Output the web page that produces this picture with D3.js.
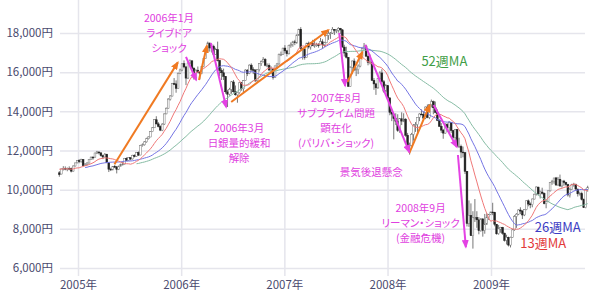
<!DOCTYPE html>
<html>
<head>
<meta charset="utf-8">
<script src="https://cdn.jsdelivr.net/npm/d3@7"></script>
<style>
  body { margin: 0; background: #fff; }
  text { font-family: "Noto Sans CJK JP", "Noto Sans", sans-serif; }
  .note { font-feature-settings: "palt"; }
</style>
</head>
<body>
<script>
// weekly candles [open, high, low, close], one row per week from firstWeek
const firstWeek = '2004-10-25';
// closes before the first candle, only used to warm up the moving averages
const preCloses = [11060, 10757, 11110, 11209, 11022, 11152, 11082, 10895, 11279, 11349, 11035, 10860];

const w2004 = [
  [10860, 10950, 10660, 10771], [10800, 11080, 10780, 11061], [11070, 11200, 10980, 11082], [11090, 11190, 10990, 11083],
  [11050, 11130, 10940, 11094], [11090, 11190, 10990, 11074], [11080, 11130, 10880, 10946], [10950, 11240, 10920, 11209],
  [11210, 11380, 11180, 11366], [11370, 11500, 11340, 11489]
];
const w2005 = [
  [11490, 11560, 11350, 11433], [11430, 11580, 11380, 11539], [11540, 11560, 11200, 11224], [11220, 11360, 11210, 11297],
  [11300, 11400, 11250, 11361], [11360, 11560, 11340, 11553], [11550, 11690, 11530, 11660], [11660, 11710, 11530, 11658],
  [11660, 11880, 11640, 11873], [11870, 11980, 11820, 11923], [11920, 11960, 11800, 11879], [11880, 11900, 11690, 11739],
  [11740, 11790, 11560, 11668], [11670, 11870, 11660, 11810], [11810, 11830, 11360, 11370], [11370, 11400, 10900, 11046],
  [11050, 11120, 10950, 11008], [11010, 11200, 10990, 11192], [11190, 11270, 11100, 11172], [11170, 11190, 10830, 11037],
  [11040, 11230, 11000, 11200], [11200, 11330, 11180, 11300], [11300, 11440, 11240, 11304], [11300, 11620, 11290, 11600],
  [11600, 11650, 11460, 11500], [11500, 11650, 11480, 11630], [11630, 11660, 11500, 11565], [11570, 11780, 11540, 11758],
  [11760, 11800, 11650, 11695], [11700, 11920, 11680, 11900], [11900, 11950, 11720, 11766], [11770, 12290, 11760, 12261],
  [12260, 12360, 12200, 12291], [12290, 12480, 12250, 12439], [12440, 12650, 12400, 12600], [12600, 12720, 12560, 12692],
  [12690, 12990, 12680, 12958], [12960, 13200, 12940, 13159], [13160, 13600, 13150, 13574], [13570, 13750, 13330, 13359],
  [13360, 13450, 13180, 13228], [13230, 13290, 12990, 13041], [13040, 13400, 12990, 13346], [13350, 13900, 13300, 13867],
  [13870, 14200, 13850, 14155], [14160, 14680, 14140, 14623], [14620, 14830, 14550, 14784], [14780, 15450, 14760, 15421],
  [15420, 15700, 15340, 15404], [15400, 15580, 14950, 15174], [15170, 15980, 15150, 15941], [15940, 16180, 15900, 16111]
];
const w2006 = [
  [16110, 16450, 16050, 16425], [16430, 16600, 16200, 16268], [16270, 16290, 15340, 15697], [15700, 16500, 15650, 16467],
  [16470, 16650, 16400, 16580], [16580, 16600, 16150, 16198], [16200, 16260, 15620, 15713], [15710, 16150, 15650, 16101],
  [16100, 16290, 15950, 16005], [16000, 16050, 15630, 15931], [15930, 16310, 15900, 16287], [16290, 16720, 16250, 16703],
  [16700, 17100, 16680, 17059], [17060, 17560, 17040, 17490], [17490, 17500, 17050, 17233], [17230, 17440, 17000, 17322],
  [17320, 17400, 16850, 16906], [16910, 17250, 16890, 17153], [17150, 17560, 16550, 16601], [16600, 16620, 15800, 16090],
  [16090, 16200, 15600, 15970], [15970, 16180, 15600, 15787], [15790, 15800, 14900, 15000], [14990, 15100, 14220, 14879],
  [14880, 15200, 14800, 15124], [15120, 15550, 14900, 15505], [15500, 15600, 14950, 15000], [15000, 15320, 14800, 14845],
  [14840, 14960, 14440, 14946], [14950, 15480, 14900, 15457], [15460, 15500, 15050, 15154], [15150, 15600, 14980, 15565],
  [15570, 16150, 15550, 16106], [16100, 16160, 15800, 15939], [15940, 16400, 15900, 16359], [16360, 16450, 16050, 16135],
  [16130, 16250, 15900, 16110], [16110, 16150, 15500, 15557], [15560, 16150, 15450, 16127], [16130, 16450, 16030, 16436],
  [16440, 16600, 16320, 16536], [16540, 16770, 16490, 16651], [16650, 16720, 16300, 16350], [16350, 16450, 16250, 16350],
  [16350, 16450, 16050, 16112], [16110, 16300, 15900, 16163], [16160, 16200, 15620, 15734], [15730, 16330, 15700, 16321],
  [16320, 16470, 16150, 16417], [16420, 16950, 16380, 16915], [16910, 17050, 16820, 16914], [16910, 17250, 16880, 17225]
];
const w2007 = [
  [17230, 17380, 16950, 17091], [17090, 17120, 16800, 16942], [16940, 17400, 16900, 17370], [17370, 17520, 17250, 17422],
  [17420, 17600, 17300, 17547], [17550, 17650, 17380, 17504], [17500, 17930, 17450, 17897], [17900, 18220, 17850, 18188],
  [18190, 18300, 17100, 17217], [17220, 17250, 16640, 17164], [17160, 17300, 16640, 16744], [16740, 17500, 16730, 17480],
  [17480, 17560, 17200, 17287], [17290, 17530, 17150, 17490], [17490, 17650, 17330, 17364], [17360, 17700, 17250, 17372],
  [17370, 17500, 17300, 17400], [17400, 17480, 17250, 17394], [17390, 17750, 17380, 17554], [17550, 17680, 17200, 17399],
  [17400, 17550, 17300, 17500], [17500, 17900, 17480, 17875], [17880, 18100, 17650, 17979], [17980, 18050, 17700, 18001],
  [18000, 18300, 17950, 18188], [18190, 18200, 17900, 18138], [18140, 18200, 18000, 18140], [18140, 18300, 18020, 18238],
  [18240, 18260, 17950, 18157], [18160, 18200, 17250, 17283], [17280, 17400, 16800, 16979], [16980, 17300, 16700, 16764],
  [16760, 16770, 15260, 15273], [15270, 16300, 15250, 16248], [16250, 16600, 15900, 16569], [16570, 16700, 16050, 16122],
  [16120, 16250, 15800, 16127], [16130, 16400, 15900, 16313], [16310, 16800, 16250, 16786], [16790, 17250, 16780, 17200],
  [17200, 17490, 17150, 17331], [17330, 17400, 16800, 16814], [16810, 16900, 16350, 16505], [16510, 16900, 16400, 16517],
  [16520, 16550, 15550, 15584], [15580, 15700, 15100, 15400], [15400, 15450, 14840, 15200], [15200, 15700, 15150, 15680],
  [15680, 16050, 15600, 15956], [15960, 16150, 15450, 15514], [15510, 15600, 14950, 15031], [15030, 15400, 15000, 15307],
  [15310, 15330, 14600, 14691]
];
const w2008 = [
  [14690, 14700, 13800, 13950], [13950, 14100, 13500, 13861], [13860, 13900, 12570, 13629], [13630, 13900, 13300, 13497],
  [13500, 13850, 12950, 13017], [13020, 13650, 12900, 13622], [13620, 13950, 13300, 13500], [13500, 13900, 13450, 13604],
  [13600, 13650, 12700, 12782], [12780, 12900, 12140, 12241], [12240, 12400, 11790, 12260], [12260, 12900, 12250, 12820],
  [12820, 13350, 12500, 13293], [13290, 13450, 12950, 13323], [13320, 13700, 12900, 13696], [13700, 13900, 13500, 13863],
  [13860, 14100, 13800, 13849], [13850, 14000, 13550, 13655], [13660, 14250, 13600, 14219], [14220, 14350, 13650, 13690],
  [13690, 14350, 13600, 14338], [14340, 14600, 14200, 14489], [14490, 14550, 13850, 14181], [14180, 14500, 13900, 13942],
  [13940, 14100, 13500, 13544], [13540, 13600, 13200, 13237], [13240, 13400, 12900, 13039], [13040, 13100, 12600, 12889],
  [12890, 13400, 12850, 13334], [13330, 13400, 12950, 13168], [13170, 13500, 12900, 13431], [13430, 13450, 12900, 13019],
  [13020, 13050, 12600, 12666], [12670, 13100, 12500, 13072], [13070, 13100, 12200, 12212], [12210, 12650, 12150, 12214],
  [12210, 12300, 11610, 11921], [11920, 12200, 11650, 11893], [11890, 11900, 10800, 10938], [10940, 10950, 8120, 8276],
  [8280, 9450, 8100, 8693], [8690, 9300, 7650, 7649], [7650, 8900, 6990, 8577], [8580, 9520, 8350, 8583],
  [8580, 8900, 8050, 8462], [8460, 8600, 7720, 7910], [7910, 8550, 7850, 8512], [8510, 8520, 7600, 7917],
  [7920, 8760, 7750, 8235], [8240, 8800, 8200, 8588], [8590, 8760, 8450, 8739], [8740, 8870, 8700, 8860]
];
const w2009 = [
  [8860, 9330, 8700, 8836], [8840, 8870, 8130, 8230], [8230, 8250, 7700, 7745], [7750, 8200, 7700, 7994],
  [7990, 8100, 7800, 8076], [8080, 8100, 7700, 7779], [7780, 7800, 7350, 7416], [7420, 7700, 7200, 7568],
  [7570, 7600, 7100, 7173], [7170, 7600, 7050, 7569], [7570, 8000, 7550, 7945], [7950, 8700, 7900, 8627],
  [8630, 8800, 8050, 8749], [8750, 9000, 8700, 8964], [8960, 9100, 8750, 8907], [8910, 8950, 8500, 8707],
  [8710, 9000, 8650, 8977], [8980, 9450, 8950, 9432], [9430, 9500, 9150, 9265], [9270, 9350, 9050, 9225],
  [9230, 9550, 9100, 9523], [9520, 9800, 9500, 9768], [9770, 10170, 9700, 10135], [10130, 10150, 9700, 9786],
  [9790, 9950, 9550, 9877], [9880, 10100, 9750, 9816], [9820, 9850, 9250, 9287], [9290, 9450, 9050, 9395],
  [9400, 9950, 9380, 9944], [9940, 10370, 9900, 10357], [10360, 10500, 10250, 10412], [10410, 10600, 10300, 10597],
  [10600, 10650, 10200, 10238], [10240, 10650, 10200, 10534], [10530, 10770, 10150, 10187], [10190, 10450, 10100, 10444],
  [10440, 10500, 10200, 10370], [10370, 10400, 10200, 10265], [10260, 10300, 9650, 9731], [9730, 10100, 9600, 10016],
  [10020, 10300, 9980, 10258], [10260, 10350, 10150, 10282], [10280, 10300, 9950, 10034], [10030, 10050, 9650, 9789],
  [9790, 9900, 9700, 9804], [9800, 9900, 9450, 9497], [9500, 9550, 9070, 9081], [9080, 10050, 9050, 10022],
  [10020, 10200, 9900, 10107]
];

const yTicks = [6000, 8000, 10000, 12000, 14000, 16000, 18000];
const xYears = ['2005', '2006', '2007', '2008', '2009'];

const maPeriods = [52, 26, 13];
const maColors = { 13: '#f07878', 26: '#7474e4', 52: '#86bca4' };
const maLabels = [
  { text: '52週MA', date: '2008-07-20', value: 16550, color: '#3f9e47' },
  { text: '26週MA', date: '2009-08-25', value: 8100, color: '#3c3cc4' },
  { text: '13週MA', date: '2009-07-05', value: 7250, color: '#e23a3a' }
];

// arrows: [from date, from value, to date, to value]
const upArrows = [
  ['2005-05-10', 11300, '2005-12-20', 16500],
  ['2006-03-05', 15600, '2006-04-02', 17350],
  ['2006-06-27', 14480, '2007-06-06', 18150],
  ['2007-08-12', 15500, '2007-10-04', 17030],
  ['2008-03-18', 11870, '2008-05-29', 14320]
];
const downArrows = [
  ['2006-01-18', 16780, '2006-02-23', 15600],
  ['2006-04-16', 17490, '2006-06-09', 14220],
  ['2007-07-14', 18000, '2007-08-04', 15300],
  ['2007-10-14', 17390, '2008-03-18', 11920],
  ['2008-06-12', 14320, '2008-09-02', 12180],
  ['2008-09-06', 11770, '2008-10-04', 7070]
];

const notes = [
  { lines: ['2006年1月', 'ライブドア', 'ショック'], date: '2005-11-19', value: 18770 },
  { lines: ['2006年3月', '日銀量的緩和', '解除'], date: '2006-07-25', value: 13150 },
  { lines: ['2007年8月', 'サブプライム問題', '顕在化', '(パリバ・ショック)'], date: '2007-07-03', value: 14680 },
  { lines: ['景気後退懸念'], date: '2007-11-04', value: 10900 },
  { lines: ['2008年9月', 'リーマン・ショック', '(金融危機)'], date: '2008-04-27', value: 9060 }
];

// setting canvas
const width = 600;
const height = 301;
const plot = { left: 60, right: 585, bottom: 276 };
const noteSize = 10.5;
const noteGap = 15.2;
const parse = d3.timeParse('%Y-%m-%d');

const svg = d3.select('body').append('svg').attr('width', width).attr('height', height);

const x = d3.scaleTime()
  .domain([parse('2005-01-01'), parse('2009-01-01')])
  .range([78, 491]);

const y = d3.scaleLinear()
  .domain([6000, 18000])
  .range([268, 33]);

// candles
const rows = [].concat(w2004, w2005, w2006, w2007, w2008, w2009);
const start = parse(firstWeek);
const candles = rows.map((r, i) => ({
  date: d3.timeDay.offset(d3.timeMonday.offset(start, i), 2),
  o: r[0], h: r[1], l: r[2], c: r[3]
}));

// moving averages
const allCloses = preCloses.concat(rows.map((r) => r[3]));
const pre = preCloses.length;
const ma = (n) => candles.map((d, i) => {
  const g = i + pre;
  return g >= n - 1 ? { date: d.date, v: d3.mean(allCloses.slice(g - n + 1, g + 1)) } : null;
});

// axes as grid
const yAxis = (g) => g
  .attr('transform', `translate(${plot.left},0)`)
  .call(d3.axisLeft(y).tickValues(yTicks).tickSize(-(plot.right - plot.left)).tickPadding(7)
    .tickFormat((d) => d3.format(',')(d) + '円'))
  .call((g) => g.select('.domain').remove())
  .call((g) => g.selectAll('line').attr('stroke', '#e5e5ec').attr('stroke-width', 1.5))
  .call((g) => g.selectAll('text').attr('fill', '#4a4a6e').attr('font-size', 11.5)
    .attr('font-family', '"Noto Sans CJK JP", sans-serif'));

const xAxis = (g) => g
  .attr('transform', `translate(0,${plot.bottom})`)
  .call(d3.axisBottom(x).tickValues(xYears.map((s) => parse(s + '-01-01'))).tickSize(-plot.bottom).tickPadding(5)
    .tickFormat((d) => d3.timeFormat('%Y')(d) + '年'))
  .call((g) => g.select('.domain').remove())
  .call((g) => g.selectAll('line').attr('stroke', '#e5e5ec').attr('stroke-width', 1.5))
  .call((g) => g.selectAll('text').attr('fill', '#4a4a6e').attr('font-size', 11.5)
    .attr('font-family', '"Noto Sans CJK JP", sans-serif'));

svg.append('g').call(yAxis);
svg.append('g').call(xAxis);

// wicks
svg.append('g')
  .selectAll('line')
  .data(candles)
  .enter()
  .append('line')
  .attr('x1', (d) => x(d.date))
  .attr('x2', (d) => x(d.date))
  .attr('y1', (d) => y(d.h))
  .attr('y2', (d) => y(d.l))
  .attr('stroke', '#555')
  .attr('stroke-width', 0.8);

// bodies
svg.append('g')
  .selectAll('rect')
  .data(candles)
  .enter()
  .append('rect')
  .attr('x', (d) => x(d.date) - 0.9)
  .attr('width', 1.8)
  .attr('y', (d) => y(Math.max(d.o, d.c)))
  .attr('height', (d) => Math.max(0.8, Math.abs(y(d.o) - y(d.c))))
  .attr('fill', (d) => (d.c >= d.o ? '#fff' : '#222'))
  .attr('stroke', (d) => (d.c >= d.o ? '#777' : '#222'))
  .attr('stroke-width', 0.5);

// moving average lines
const line = d3.line()
  .defined((d) => d !== null)
  .x((d) => x(d.date))
  .y((d) => y(d.v));

maPeriods.forEach((n) => {
  svg.append('path')
    .datum(ma(n))
    .attr('fill', 'none')
    .attr('stroke', maColors[n])
    .attr('stroke-width', 1)
    .attr('d', line);
});

// arrow heads
const defs = svg.append('defs');
[['up', '#f07a22'], ['down', '#e442e4']].forEach(([id, color]) => {
  defs.append('marker')
    .attr('id', 'head-' + id)
    .attr('viewBox', '0 0 10 8')
    .attr('refX', 8)
    .attr('refY', 4)
    .attr('markerWidth', 9)
    .attr('markerHeight', 7)
    .attr('markerUnits', 'userSpaceOnUse')
    .attr('orient', 'auto')
    .append('path')
    .attr('d', 'M0,0L10,4L0,8Z')
    .attr('fill', color);
});

const drawArrows = (data, color, id) => {
  svg.append('g')
    .selectAll('line')
    .data(data)
    .enter()
    .append('line')
    .attr('x1', (d) => x(parse(d[0])))
    .attr('y1', (d) => y(d[1]))
    .attr('x2', (d) => x(parse(d[2])))
    .attr('y2', (d) => y(d[3]))
    .attr('stroke', color)
    .attr('stroke-width', 2)
    .attr('marker-end', `url(#head-${id})`);
};
drawArrows(upArrows, '#f07a22', 'up');
drawArrows(downArrows, '#e442e4', 'down');

// notes
notes.forEach((n) => {
  svg.append('g')
    .selectAll('text')
    .data(n.lines)
    .enter()
    .append('text')
    .attr('class', 'note')
    .text((d) => d)
    .attr('x', x(parse(n.date)))
    .attr('y', (d, i) => y(n.value) + i * noteGap)
    .attr('dy', '0.36em')
    .attr('fill', '#e040e0')
    .attr('font-size', noteSize)
    .attr('text-anchor', 'middle');
});

// MA labels
svg.append('g')
  .selectAll('text')
  .data(maLabels)
  .enter()
  .append('text')
  .text((d) => d.text)
  .attr('x', (d) => x(parse(d.date)))
  .attr('y', (d) => y(d.value))
  .attr('dy', '0.36em')
  .attr('fill', (d) => d.color)
  .attr('font-size', 13)
  .attr('text-anchor', 'middle');
</script>
</body>
</html>
